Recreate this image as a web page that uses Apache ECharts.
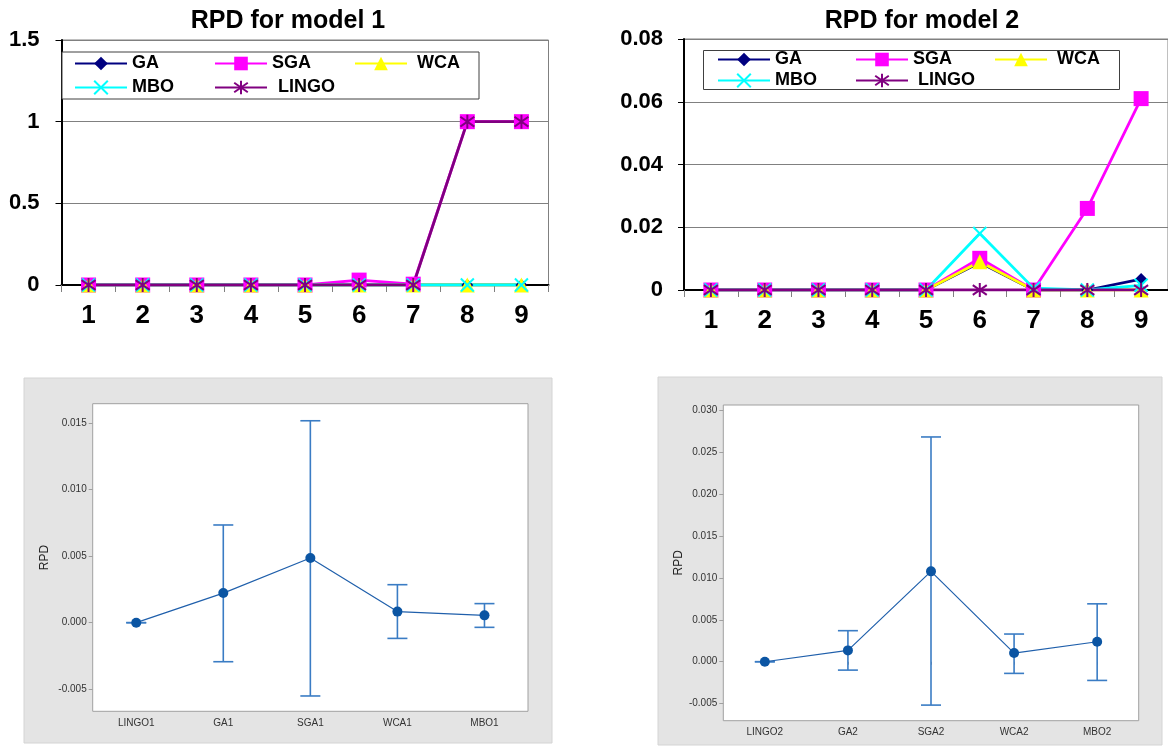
<!DOCTYPE html>
<html>
<head>
<meta charset="utf-8">
<script src="https://cdn.jsdelivr.net/npm/echarts@6/dist/echarts.min.js"></script>
<style>
  html, body { margin: 0; padding: 0; background: #ffffff; }
  #chart { width: 1168px; height: 749px; }
</style>
</head>
<body>
<div id="chart"></div>
<script>
// ---- instance labels (1..9) shared by both line charts ----
const instances = ['1', '2', '3', '4', '5', '6', '7', '8', '9'];

// ---- RPD for model 1 ----
const m1GA    = [0, 0, 0, 0, 0, 0, 0, 0, 0];
const m1SGA   = [0, 0, 0, 0, 0, 0.03, 0.005, 1, 1];
const m1WCA   = [0, 0, 0, 0, 0, 0, 0, 0, 0];
const m1MBO   = [0, 0, 0, 0, 0, 0, 0, 0, 0];
const m1LINGO = [0, 0, 0, 0, 0, 0, 0, 1, 1];

// ---- RPD for model 2 ----
const m2GA    = [0, 0, 0, 0, 0, 0.0088, 0, 0, 0.0035];
const m2SGA   = [0, 0, 0, 0, 0, 0.0101, 0, 0.026, 0.061];
const m2WCA   = [0, 0, 0, 0, 0, 0.009, 0, 0, 0];
const m2MBO   = [0, 0, 0, 0, 0, 0.018, 0.0006, 0, 0.0015];
const m2LINGO = [0, 0, 0, 0, 0, 0, 0, 0, 0];

// ---- interval plot, model 1 (mean and interval ends) ----
const ivGroups1 = ['LINGO1', 'GA1', 'SGA1', 'WCA1', 'MBO1'];
const ivMean1   = [0, 0.00222, 0.00485, 0.00083, 0.00055];
const ivLow1    = [0, -0.00293, -0.0055, -0.00118, -0.00035];
const ivHigh1   = [0, 0.00733, 0.01515, 0.00285, 0.00143];
const ivTicks1  = [-0.005, 0, 0.005, 0.010, 0.015];

// ---- interval plot, model 2 ----
const ivGroups2 = ['LINGO2', 'GA2', 'SGA2', 'WCA2', 'MBO2'];
const ivMean2   = [0, 0.00135, 0.01077, 0.00103, 0.00238];
const ivLow2    = [0, -0.001, -0.00517, -0.00139, -0.00223];
const ivHigh2   = [0, 0.0037, 0.02679, 0.0033, 0.0069];
const ivTicks2  = [-0.005, 0, 0.005, 0.010, 0.015, 0.020, 0.025, 0.030];

const FONT = '"Liberation Sans", Arial, sans-serif';

// marker shapes for the line charts
const X_MARK = 'path://M0,0L10,10M10,0L0,10';
const STAR_MARK = 'path://M5,0L5,10M0,1.5L10,8.5M10,1.5L0,8.5';

const methods = [
  { name: 'GA',    color: '#000080', symbol: 'diamond',  size: 12, stroke: false },
  { name: 'SGA',   color: '#FF00FF', symbol: 'rect',     size: 15, stroke: false },
  { name: 'WCA',   color: '#FFFF00', symbol: 'triangle', size: 15, stroke: false },
  { name: 'MBO',   color: '#00FFFF', symbol: X_MARK,     size: 13, stroke: true },
  { name: 'LINGO', color: '#800080', symbol: STAR_MARK,  size: 14, stroke: true }
];

function methodSeries(m, data, axisIdx) {
  return {
    type: 'line',
    name: m.name,
    xAxisIndex: axisIdx,
    yAxisIndex: axisIdx,
    data: data,
    symbol: m.symbol,
    symbolSize: m.size,
    showAllSymbol: true,
    lineStyle: { color: m.color, width: 2.8 },
    itemStyle: m.stroke
      ? { color: m.color, borderColor: m.color, borderWidth: 2 }
      : { color: m.color, borderWidth: 0 },
    emphasis: { disabled: true },
    animation: false
  };
}

function legendItem(name, left, top, extraGap) {
  return {
    data: [name],
    left: left,
    top: top,
    padding: 0,
    itemWidth: 52,
    itemHeight: 17,
    selectedMode: false,
    textStyle: {
      fontFamily: FONT, fontWeight: 'bold', fontSize: 18, color: '#000',
      padding: [0, 0, 0, extraGap || 0]
    }
  };
}

function lineXAxis(gridIdx) {
  return {
    type: 'category',
    gridIndex: gridIdx,
    data: instances,
    boundaryGap: true,
    axisLine: { show: true, onZero: false, lineStyle: { color: '#000', width: 2 } },
    axisTick: { show: true, interval: 0, length: 7, lineStyle: { color: '#808080', width: 1 } },
    axisLabel: { interval: 0, margin: 18, fontFamily: FONT, fontWeight: 'bold', fontSize: 26, color: '#000' },
    splitLine: { show: false }
  };
}

function lineYAxis(gridIdx, max, interval, margin) {
  return {
    type: 'value',
    gridIndex: gridIdx,
    min: 0,
    max: max,
    interval: interval,
    axisLine: { show: true, lineStyle: { color: '#000', width: 2 } },
    axisTick: { show: true, length: 6, lineStyle: { color: '#000', width: 1 } },
    axisLabel: { margin: margin, fontFamily: FONT, fontWeight: 'bold', fontSize: 22, color: '#000' },
    splitLine: { show: true, lineStyle: { color: '#808080', width: 1 } }
  };
}

function ivXAxis(gridIdx, groups) {
  return {
    type: 'category',
    gridIndex: gridIdx,
    data: groups,
    boundaryGap: true,
    axisLine: { show: false },
    axisTick: { show: true, alignWithLabel: true, length: 3, lineStyle: { color: '#a0a0a0' } },
    axisLabel: { interval: 0, margin: 7, fontFamily: FONT, fontSize: 10, color: '#333' },
    splitLine: { show: false }
  };
}

function ivYAxis(gridIdx, min, max, ticks, nameGap) {
  return {
    type: 'value',
    gridIndex: gridIdx,
    min: min,
    max: max,
    name: 'RPD',
    nameLocation: 'middle',
    nameGap: nameGap,
    nameTextStyle: { fontFamily: FONT, fontSize: 12, color: '#222' },
    axisLine: { show: false },
    axisTick: { show: true, length: 4, customValues: ticks, lineStyle: { color: '#a0a0a0' } },
    axisLabel: {
      customValues: ticks, margin: 6, fontFamily: FONT, fontSize: 10, color: '#333',
      formatter: v => v.toFixed(3)
    },
    splitLine: { show: false }
  };
}

function errorBars(axisIdx, low, high) {
  return {
    type: 'custom',
    xAxisIndex: axisIdx,
    yAxisIndex: axisIdx,
    data: low.map((lo, i) => [i, lo, high[i]]),
    clip: false,
    z: 3,
    renderItem: function (params, api) {
      const i = api.value(0);
      const lo = api.coord([i, api.value(1)]);
      const hi = api.coord([i, api.value(2)]);
      const half = 10;
      const st = { stroke: '#3a7cc4', lineWidth: 1.6 };
      return {
        type: 'group',
        children: [
          { type: 'line', shape: { x1: lo[0], y1: lo[1], x2: hi[0], y2: hi[1] }, style: st },
          { type: 'line', shape: { x1: lo[0] - half, y1: lo[1], x2: lo[0] + half, y2: lo[1] }, style: st },
          { type: 'line', shape: { x1: hi[0] - half, y1: hi[1], x2: hi[0] + half, y2: hi[1] }, style: st }
        ]
      };
    },
    animation: false
  };
}

function meanLine(axisIdx, mean) {
  return {
    type: 'line',
    xAxisIndex: axisIdx,
    yAxisIndex: axisIdx,
    data: mean,
    symbol: 'circle',
    symbolSize: 10,
    showAllSymbol: true,
    z: 4,
    lineStyle: { color: '#1f5fab', width: 1.2 },
    itemStyle: { color: '#0b55a3' },
    emphasis: { disabled: true },
    animation: false
  };
}

const chart = echarts.init(document.getElementById('chart'), null, { renderer: 'canvas' });

const option = {
  backgroundColor: '#ffffff',
  animation: false,
  title: [
    { text: 'RPD for model 1', left: 288, top: 9, textAlign: 'center', padding: 0,
      textStyle: { fontFamily: FONT, fontWeight: 'bold', fontSize: 25, color: '#000' } },
    { text: 'RPD for model 2', left: 922, top: 9, textAlign: 'center', padding: 0,
      textStyle: { fontFamily: FONT, fontWeight: 'bold', fontSize: 25, color: '#000' } }
  ],
  graphic: {
    elements: [
      // grey panels behind the interval plots
      { type: 'rect', z: -10, shape: { x: 24, y: 378, width: 528, height: 365 },
        style: { fill: '#e4e4e4', stroke: '#d4d4d4', lineWidth: 1 } },
      { type: 'rect', z: -10, shape: { x: 658, y: 377, width: 504, height: 368 },
        style: { fill: '#e4e4e4', stroke: '#d4d4d4', lineWidth: 1 } },
      // legend frames of the line charts
      { type: 'rect', z: 3, shape: { x: 62, y: 52, width: 417, height: 47 },
        style: { fill: '#ffffff', stroke: '#404040', lineWidth: 1 } },
      { type: 'rect', z: 3, shape: { x: 703.5, y: 50.5, width: 416, height: 39 },
        style: { fill: '#ffffff', stroke: '#404040', lineWidth: 1 } }
    ]
  },
  legend: [
    legendItem('GA',    74,  54.5),
    legendItem('SGA',   214, 54.5),
    legendItem('WCA',   354, 54.5, 5),
    legendItem('MBO',   74,  78.5),
    legendItem('LINGO', 214, 78.5, 6),
    legendItem('GA',    717, 50.5),
    legendItem('SGA',   855, 50.5),
    legendItem('WCA',   994, 50.5, 5),
    legendItem('MBO',   717, 71.5),
    legendItem('LINGO', 855, 71.5, 5)
  ],
  grid: [
    { left: 61.5, top: 40, width: 487, height: 245, show: true,
      backgroundColor: '#ffffff', borderColor: '#808080', borderWidth: 1 },
    { left: 684, top: 39, width: 490, height: 251, show: true,
      backgroundColor: '#ffffff', borderColor: '#808080', borderWidth: 1 },
    { left: 92.7, top: 403.7, width: 435.3, height: 307.6, show: true,
      backgroundColor: '#ffffff', borderColor: '#a0a0a0', borderWidth: 1 },
    { left: 723.3, top: 405, width: 415.4, height: 315.7, show: true,
      backgroundColor: '#ffffff', borderColor: '#a0a0a0', borderWidth: 1 }
  ],
  xAxis: [
    lineXAxis(0),
    lineXAxis(1),
    ivXAxis(2, ivGroups1),
    ivXAxis(3, ivGroups2)
  ],
  yAxis: [
    lineYAxis(0, 1.5, 0.5, 22),
    lineYAxis(1, 0.08, 0.02, 21),
    ivYAxis(2, -0.00665, 0.01643, ivTicks1, 42),
    ivYAxis(3, -0.00703, 0.0306, ivTicks2, 39)
  ],
  series: [
    methodSeries(methods[0], m1GA, 0),
    methodSeries(methods[1], m1SGA, 0),
    methodSeries(methods[2], m1WCA, 0),
    methodSeries(methods[3], m1MBO, 0),
    methodSeries(methods[4], m1LINGO, 0),
    methodSeries(methods[0], m2GA, 1),
    methodSeries(methods[1], m2SGA, 1),
    methodSeries(methods[2], m2WCA, 1),
    methodSeries(methods[3], m2MBO, 1),
    methodSeries(methods[4], m2LINGO, 1),
    errorBars(2, ivLow1, ivHigh1),
    meanLine(2, ivMean1),
    errorBars(3, ivLow2, ivHigh2),
    meanLine(3, ivMean2)
  ]
};

chart.setOption(option);
</script>
</body>
</html>
